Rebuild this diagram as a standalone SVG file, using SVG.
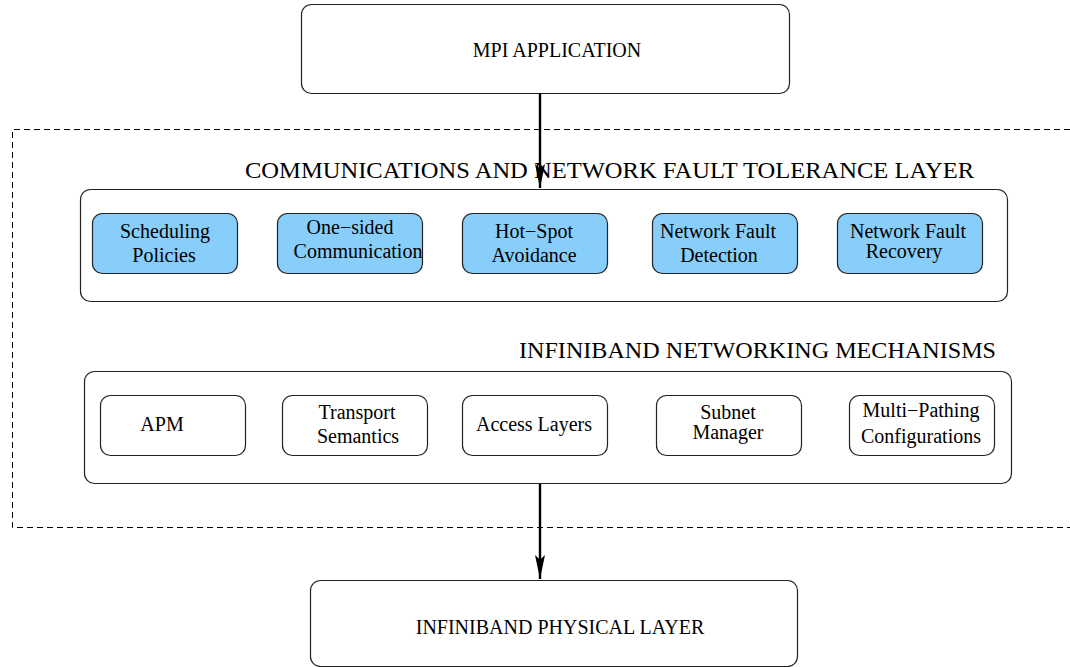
<svg xmlns="http://www.w3.org/2000/svg" width="1070" height="667" viewBox="0 0 1070 667">
<style>
text{font-family:"Liberation Serif","Times New Roman",serif;fill:#000;}
.t20{font-size:20px;text-anchor:middle;}
.t24{font-size:24px;}
.big{fill:#fff;stroke:#222;stroke-width:1.2;}
.blue{fill:#87cefa;stroke:#222;stroke-width:1.2;}
.white{fill:#fff;stroke:#222;stroke-width:1.2;}
.dash{fill:none;stroke:#000;stroke-width:1;stroke-dasharray:6,4;}
.conn{stroke:#000;stroke-width:2.4;fill:none;}
</style>
<defs>
<marker id="arr" viewBox="0 0 10 10" refX="10" refY="5" markerWidth="24" markerHeight="10" markerUnits="userSpaceOnUse" orient="auto" preserveAspectRatio="none">
<path d="M0,0 L10,5 L0,10 L2,5 Z" fill="#000"/>
</marker>
</defs>
<rect width="1070" height="667" fill="#fff"/>
<path class="dash" d="M1070,129.5 H12.5 V527.5 H1070"/>
<g id="mpi">
<rect class="big" x="301.5" y="4.5" width="488" height="89" rx="10"/>
<text class="t20" x="557" y="57">MPI APPLICATION</text>
</g>
<g id="layer1">
<text class="t24" x="245" y="178" textLength="729" lengthAdjust="spacingAndGlyphs">COMMUNICATIONS AND NETWORK FAULT TOLERANCE LAYER</text>
<rect class="big" x="80.5" y="189.5" width="927" height="112" rx="10"/>
</g>
<g id="sched">
<rect class="blue" x="92.5" y="213.5" width="145" height="60" rx="10"/>
<text class="t20" x="165" y="238">Scheduling</text>
<text class="t20" x="164" y="262">Policies</text>
</g>
<g id="onesided">
<rect class="blue" x="277.5" y="213.5" width="145" height="60" rx="10"/>
<text class="t20" x="350" y="234">One−sided</text>
<text class="t20" x="358" y="258">Communication</text>
</g>
<g id="hotspot">
<rect class="blue" x="462.5" y="213.5" width="145" height="60" rx="10"/>
<text class="t20" x="534" y="238">Hot−Spot</text>
<text class="t20" x="534" y="262">Avoidance</text>
</g>
<g id="nfdetect">
<rect class="blue" x="652.5" y="213.5" width="145" height="60" rx="10"/>
<text class="t20" x="718" y="238">Network Fault</text>
<text class="t20" x="719" y="262">Detection</text>
</g>
<g id="nfrecover">
<rect class="blue" x="837.5" y="213.5" width="145" height="60" rx="10"/>
<text class="t20" x="908" y="238">Network Fault</text>
<text class="t20" x="904" y="258">Recovery</text>
</g>
<g id="layer2">
<text class="t24" x="519" y="358" textLength="477" lengthAdjust="spacingAndGlyphs">INFINIBAND NETWORKING MECHANISMS</text>
<rect class="big" x="84.5" y="371.5" width="927" height="112" rx="10"/>
</g>
<g id="apm">
<rect class="white" x="100.5" y="395.5" width="145" height="60" rx="10"/>
<text class="t20" x="162" y="431">APM</text>
</g>
<g id="transport">
<rect class="white" x="282.5" y="395.5" width="145" height="60" rx="10"/>
<text class="t20" x="357" y="419">Transport</text>
<text class="t20" x="358" y="443">Semantics</text>
</g>
<g id="access">
<rect class="white" x="462.5" y="395.5" width="145" height="60" rx="10"/>
<text class="t20" x="534" y="431">Access Layers</text>
</g>
<g id="subnet">
<rect class="white" x="656.5" y="395.5" width="145" height="60" rx="10"/>
<text class="t20" x="728" y="419">Subnet</text>
<text class="t20" x="728" y="439">Manager</text>
</g>
<g id="multipath">
<rect class="white" x="849.5" y="395.5" width="145" height="60" rx="10"/>
<text class="t20" x="921" y="417">Multi−Pathing</text>
<text class="t20" x="921" y="443">Configurations</text>
</g>
<g id="physical">
<rect class="big" x="310.5" y="580.5" width="487" height="86" rx="10"/>
<text class="t20" x="560" y="634">INFINIBAND PHYSICAL LAYER</text>
</g>
<g id="connectors">
<line class="conn" x1="540" y1="93" x2="540" y2="188" marker-end="url(#arr)"/>
<line class="conn" x1="540" y1="484" x2="540" y2="579" marker-end="url(#arr)"/>
</g>
</svg>
